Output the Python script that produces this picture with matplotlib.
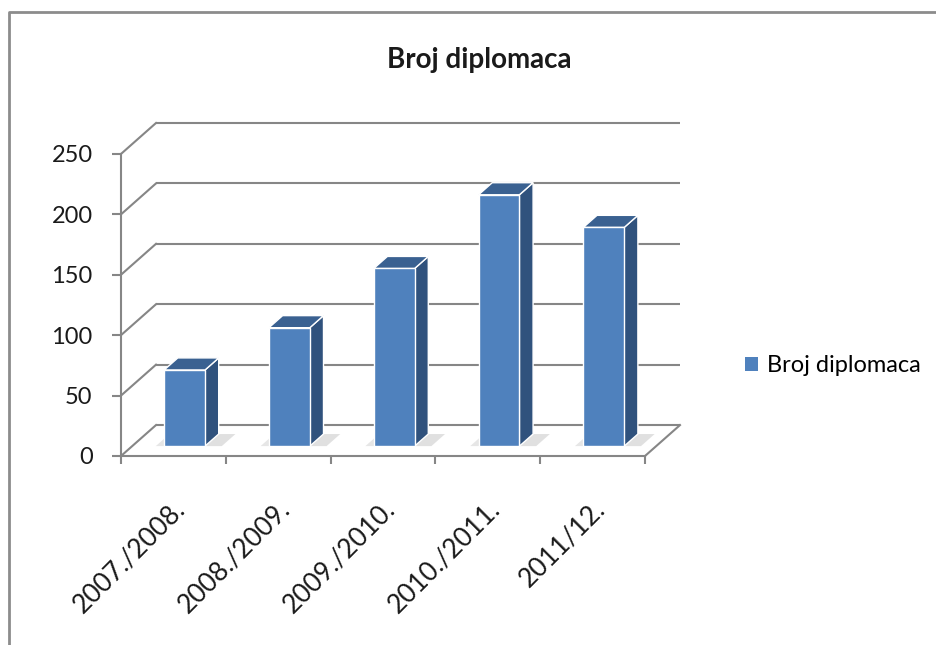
import numpy as np
import matplotlib
matplotlib.use("Agg")
import matplotlib.pyplot as plt
from matplotlib.patches import Polygon, Patch
from matplotlib.lines import Line2D
from matplotlib.transforms import offset_copy

plt.rcParams['font.family'] = ['Lato', 'DejaVu Sans']

# ---- data ----
categories = ['2007./2008.', '2008./2009.', '2009./2010.', '2010./2011.', '2011/12.']
values = [63, 98, 147, 208, 181]
series_name = 'Broj diplomaca'
title = 'Broj diplomaca'
yticks = [0, 50, 100, 150, 200, 250]

# ---- style ----
FRONT = '#4F81BD'
SIDE = '#30527D'
TOP = '#3A6191'
GRID = '#868686'
DX, DY = 0.334, 25.6      # depth offset of the back wall (data units)
D0, D1 = 0.32, 0.71       # bar depth span (fraction of floor depth)
W = 0.39                  # bar width

fig = plt.figure(figsize=(9.36, 6.45), dpi=100)
ax = fig.add_axes([121 / 936, (645 - 456) / 645, 559 / 936, 333 / 645])
n = len(categories)
ymax = yticks[-1]
ax.set_xlim(-0.5, n - 0.5 + DX)
ax.set_ylim(0, ymax + DY)
ax.patch.set_visible(False)

# back wall gridlines and side-wall diagonals
for v in yticks:
    ax.plot([-0.5 + DX, n - 0.5 + DX], [v + DY, v + DY], color=GRID, lw=1.5,
            clip_on=False, zorder=1, solid_capstyle='butt')
    ax.plot([-0.5, -0.5 + DX], [v, v + DY], color=GRID, lw=1.5,
            clip_on=False, zorder=1)
# right floor edge
ax.plot([n - 0.5, n - 0.5 + DX], [0, DY], color=GRID, lw=1.5, clip_on=False, zorder=1)

# bars
for i, v in enumerate(values):
    x0 = i - W / 2 + D0 * DX
    x1 = i + W / 2 + D0 * DX
    y0 = D0 * DY
    ex = (D1 - D0) * DX
    ey = (D1 - D0) * DY
    # floor shadow
    ax.add_patch(Polygon([(x1, y0), (x1 + ex, y0 + ey), (x1 + ex + 0.16, y0 + ey),
                          (x1 + 0.16, y0)], closed=True, facecolor='#d4d4d4',
                         edgecolor='none', alpha=0.7, zorder=2))
    ax.add_patch(Polygon([(x0 - 0.08, y0), (x0, y0), (x0 + ex, y0 + ey), (x0 + ex - 0.08, y0 + ey)],
                         closed=True, facecolor='#e6e6e6', edgecolor='none', zorder=2))
    ax.bar(i + D0 * DX, v, width=W, bottom=y0, color=FRONT, edgecolor='white',
           linewidth=1.0, zorder=4)
    ax.add_patch(Polygon([(x1, y0), (x1 + ex, y0 + ey), (x1 + ex, y0 + v + ey), (x1, y0 + v)],
                         closed=True, facecolor=SIDE, edgecolor='white', lw=1.0, zorder=3))
    ax.add_patch(Polygon([(x0, y0 + v), (x1, y0 + v), (x1 + ex, y0 + v + ey), (x0 + ex, y0 + v + ey)],
                         closed=True, facecolor=TOP, edgecolor='white', lw=1.0, zorder=3))

# axes / spines
for s in ['top', 'right']:
    ax.spines[s].set_visible(False)
for s in ['left', 'bottom']:
    ax.spines[s].set_color(GRID)
    ax.spines[s].set_linewidth(1.5)
    ax.spines[s].set_zorder(5)
ax.spines['left'].set_bounds(0, ymax)
ax.spines['bottom'].set_bounds(-0.5, n - 0.5)

ax.set_yticks(yticks)
ax.set_yticklabels([str(t) for t in yticks], fontsize=17, color='#1a1a1a')
ax.tick_params(axis='y', length=6.5, width=1.5, color=GRID, pad=14)
ax.set_xticks(np.arange(-0.5, n, 1.0))
ax.set_xticklabels([''] * (n + 1))
ax.tick_params(axis='x', length=6, width=1.5, color=GRID)

trans = offset_copy(ax.transData, fig=fig, x=8, y=-49, units='dots')
for i, lab in enumerate(categories):
    ax.text(i, 0, lab, transform=trans, rotation=45, ha='right', va='center',
            rotation_mode='anchor', fontsize=19, color='#1a1a1a')

fig.text(479 / 936, 1 - 60 / 645, title, ha='center', va='center',
         fontsize=20, fontweight='bold', color='#1a1a1a')

fig.legend(handles=[Patch(facecolor=FRONT, edgecolor='none')], labels=[series_name],
           loc='center left', bbox_to_anchor=(745 / 936, 1 - 366 / 645),
           frameon=False, fontsize=17, handlelength=0.55, handleheight=0.55,
           handletextpad=0.4, borderpad=0, borderaxespad=0)

# chart border (top and left)
fig.add_artist(Line2D([9 / 936, 9 / 936, 1], [0, 1 - 12 / 645, 1 - 12 / 645],
                      transform=fig.transFigure, color='#8c8c8c', lw=2))

fig.savefig('out.png', dpi=100, facecolor='white')
